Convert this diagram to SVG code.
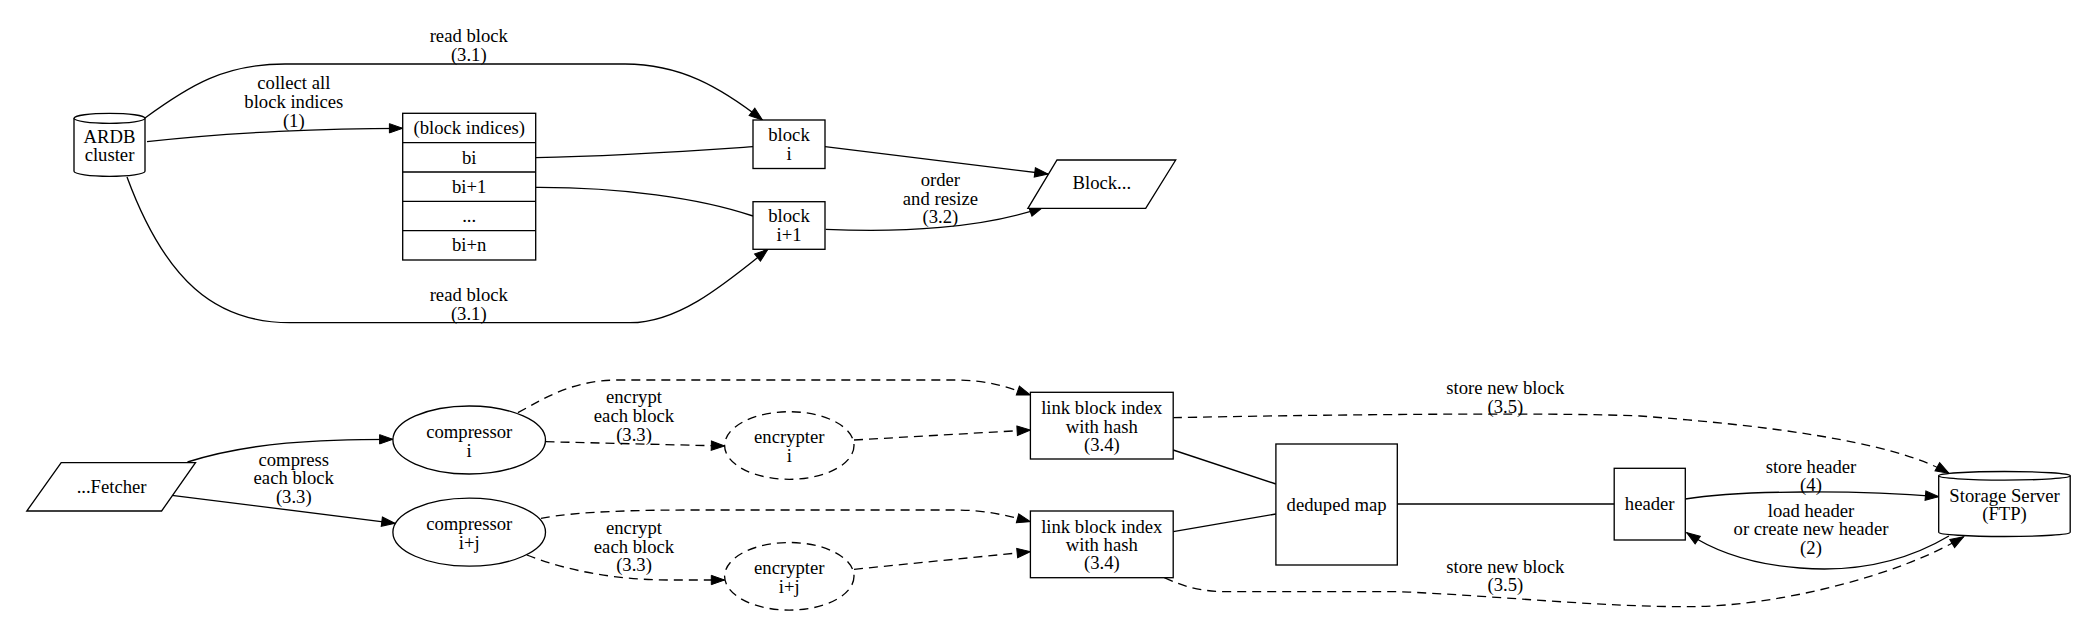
<svg xmlns="http://www.w3.org/2000/svg" width="2097" height="643" viewBox="0 0 2097 643" font-family="'Liberation Serif', 'Times New Roman', Times, serif">
<defs>
<style>
.n{fill:#fff;stroke:#000;stroke-width:1.33}
.e{fill:none;stroke:#000;stroke-width:1.33}
.d{stroke-dasharray:9,6}
.a{marker-end:url(#ah)}
text{font-family:'Liberation Serif','Times New Roman',Times,serif;font-size:18.67px;fill:#000;text-anchor:middle}
</style>
<marker id="ah" markerUnits="userSpaceOnUse" markerWidth="15" markerHeight="11" refX="13.3" refY="4.67" orient="auto" overflow="visible">
<path d="M0,0 L13.3,4.67 L0,9.33 Z" fill="#000" stroke="#000" stroke-width="1"/>
</marker>
</defs>
<rect width="2097" height="643" fill="#fff"/>

<g id="connectors">
<path class="e a" d="M147,141.7 C230,132 330,128.3 402.7,128.3"/>
<path class="e a" d="M145,118 C190,85 225,64 285,64 L625,64 C680,64 720,87 762.5,120"/>
<path class="e a" d="M127,177 C165,280 215,322.7 290,322.7 L630,322.7 C680,322.7 727,282 767.9,249.3"/>
<path class="e" d="M535.7,157.7 C620,156 690,151 753,146.7"/>
<path class="e" d="M535.7,187.3 C620,187 700,198 753,216"/>
<path class="e a" d="M825,146.7 L1048,174"/>
<path class="e a" d="M825.7,229.3 C900,233 985,228 1042.9,207.3"/>

<path class="e a" d="M187.5,462 C250,442 320,439.3 392.9,439.3"/>
<path class="e a" d="M171.9,495.3 L395,523.3"/>
<path class="e d a" d="M517.9,412.7 C550,395 575,380 620,380 L955,380 C985,380 1005,386 1030.4,395"/>
<path class="e d a" d="M545.5,441.7 L724.6,446"/>
<path class="e d a" d="M541,518.3 C580,511 640,510 700,510 L955,510 C985,510 1005,515 1030.4,521.7"/>
<path class="e d a" d="M526.8,555 C570,572 620,580 670,580 L724.6,580"/>
<path class="e d a" d="M854,440 L1030.4,430"/>
<path class="e d a" d="M854,569.3 L1030.4,551.7"/>
<path class="e" d="M1173.2,450 L1275.9,484"/>
<path class="e" d="M1173.2,531.7 L1275.9,514"/>
<path class="e" d="M1397.3,504 L1614.2,504"/>
<path class="e d a" d="M1173.2,417.7 C1300,415 1550,412 1640,416 C1760,425 1890,440 1948.9,473.3"/>
<path class="e d a" d="M1164.3,577.7 C1185,587 1200,591.7 1230,591.7 L1400,591.7 C1500,596 1600,607 1690,606.7 C1780,606 1900,575 1963.6,536.7"/>
<path class="e a" d="M1685.3,499 C1740,490 1860,490 1938.7,496.7"/>
<path class="e a" d="M1948.9,536 C1900,565 1850,572 1800,568 C1760,565 1720,555 1686.7,532.7"/>

<text x="468.75" y="42">read block</text>
<text x="468.75" y="61">(3.1)</text>
<text x="293.8" y="89.3">collect all</text>
<text x="293.8" y="107.7">block indices</text>
<text x="293.8" y="126.7">(1)</text>
<text x="468.75" y="301">read block</text>
<text x="468.75" y="320">(3.1)</text>
<text x="940.4" y="186">order</text>
<text x="940.4" y="205">and resize</text>
<text x="940.4" y="223.3">(3.2)</text>
<text x="293.75" y="466">compress</text>
<text x="293.75" y="483.7">each block</text>
<text x="293.75" y="502.7">(3.3)</text>
<text x="634" y="403.3">encrypt</text>
<text x="634" y="422">each block</text>
<text x="634" y="441">(3.3)</text>
<text x="634" y="533.7">encrypt</text>
<text x="634" y="552.7">each block</text>
<text x="634" y="571">(3.3)</text>
<text x="1505.3" y="393.7">store new block</text>
<text x="1505.3" y="412.7">(3.5)</text>
<text x="1505.3" y="572.7">store new block</text>
<text x="1505.3" y="591">(3.5)</text>
<text x="1811" y="472.7">store header</text>
<text x="1811" y="491">(4)</text>
<text x="1811" y="516.7">load header</text>
<text x="1811" y="535">or create new header</text>
<text x="1811" y="554.3">(2)</text>
</g>

<g id="ardb">
<path class="n" d="M145,118.3 L145,171.3 A35.5,5 0 0 1 74,171.3 L74,118.3 A35.5,5 0 0 1 145,118.3 Z"/>
<path class="e" d="M74,118.3 A35.5,5 0 0 0 145,118.3"/>
<text x="109.5" y="142.7">ARDB</text>
<text x="109.5" y="161">cluster</text>
</g>

<g id="block_indices">
<rect class="n" x="402.7" y="113.3" width="133" height="146.7"/>
<path class="e" d="M402.7,142.6 H535.7 M402.7,172 H535.7 M402.7,201.3 H535.7 M402.7,230.7 H535.7"/>
<text x="469.2" y="134">(block indices)</text>
<text x="469.2" y="163.5">bi</text>
<text x="469.2" y="192.8">bi+1</text>
<text x="469.2" y="221.5">...</text>
<text x="469.2" y="251">bi+n</text>
</g>

<g id="block_i">
<rect class="n" x="753" y="120" width="72" height="48.5"/>
<text x="789" y="141">block</text>
<text x="789" y="160">i</text>
</g>

<g id="block_i1">
<rect class="n" x="753" y="201.7" width="72" height="47.6"/>
<text x="789" y="222">block</text>
<text x="789" y="241">i+1</text>
</g>

<g id="block_out">
<polygon class="n" points="1057,160 1175.7,160 1145.7,208.3 1027.9,208.3"/>
<text x="1101.8" y="189">Block...</text>
</g>

<g id="fetcher">
<polygon class="n" points="61.2,462.7 195.5,462.7 161.6,511 26.8,511"/>
<text x="111.6" y="493.3">...Fetcher</text>
</g>

<g id="compressor_i">
<ellipse class="n" cx="469.2" cy="440" rx="76.3" ry="34"/>
<text x="469.2" y="437.5">compressor</text>
<text x="469.2" y="456.5">i</text>
</g>

<g id="compressor_ij">
<ellipse class="n" cx="469.2" cy="532.2" rx="76.3" ry="34"/>
<text x="469.2" y="529.5">compressor</text>
<text x="469.2" y="548.5">i+j</text>
</g>

<g id="encrypter_i">
<ellipse class="n d" cx="789.3" cy="445.5" rx="64.7" ry="33.8"/>
<text x="789.3" y="443.3">encrypter</text>
<text x="789.3" y="462">i</text>
</g>

<g id="encrypter_ij">
<ellipse class="n d" cx="789.3" cy="576.3" rx="64.7" ry="33.8"/>
<text x="789.3" y="574.3">encrypter</text>
<text x="789.3" y="592.7">i+j</text>
</g>

<g id="link1">
<rect class="n" x="1030.4" y="392.3" width="142.8" height="66.7"/>
<text x="1101.8" y="414.3">link block index</text>
<text x="1101.8" y="432.7">with hash</text>
<text x="1101.8" y="451">(3.4)</text>
</g>

<g id="link2">
<rect class="n" x="1030.4" y="511" width="142.8" height="66.7"/>
<text x="1101.8" y="532.7">link block index</text>
<text x="1101.8" y="551">with hash</text>
<text x="1101.8" y="569.3">(3.4)</text>
</g>

<g id="deduped">
<rect class="n" x="1275.9" y="444" width="121.4" height="121"/>
<text x="1336.6" y="511">deduped map</text>
</g>

<g id="header">
<rect class="n" x="1614.2" y="468.3" width="71.1" height="71.7"/>
<text x="1649.7" y="510.3">header</text>
</g>

<g id="storage">
<path class="n" d="M2070.2,475.8 L2070.2,532.2 A65.75,4.3 0 0 1 1938.7,532.2 L1938.7,475.8 A65.75,4.3 0 0 1 2070.2,475.8 Z"/>
<path class="e" d="M1938.7,475.8 A65.75,4.3 0 0 0 2070.2,475.8"/>
<text x="2004.5" y="501.7">Storage Server</text>
<text x="2004.5" y="520">(FTP)</text>
</g>
</svg>
